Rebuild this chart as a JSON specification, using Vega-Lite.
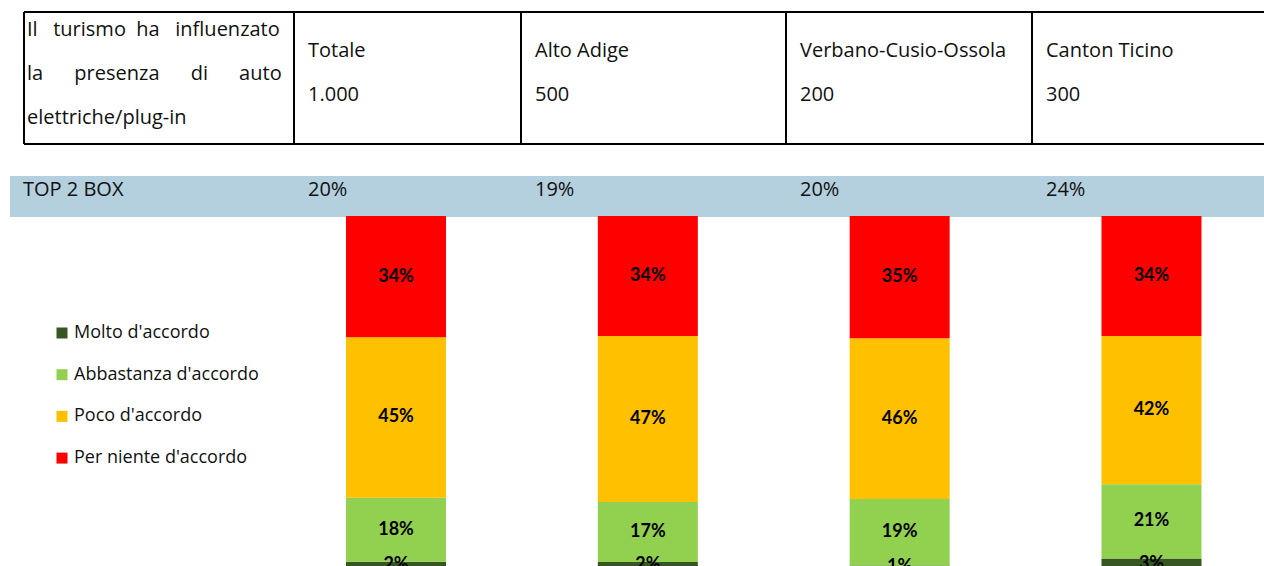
{
  "$schema": "https://vega.github.io/schema/vega-lite/v6.json",
  "width": 1264,
  "height": 566,
  "autosize": {"type": "fit", "contains": "padding"},
  "padding": 0,
  "background": "white",
  "config": {"view": {"stroke": null}, "font": "Open Sans"},
  "datasets": {
    "cols": [
      {"col": 0, "label": "", "base": "", "top2": "TOP 2 BOX"},
      {"col": 1, "label": "Totale", "base": "1.000", "top2": "20%"},
      {"col": 2, "label": "Alto Adige", "base": "500", "top2": "19%"},
      {"col": 3, "label": "Verbano-Cusio-Ossola", "base": "200", "top2": "20%"},
      {"col": 4, "label": "Canton Ticino", "base": "300", "top2": "24%"}
    ],
    "question": [
      {"col": 0, "text": ["Il\u00a0\u00a0\u00a0turismo\u00a0\u00a0ha\u00a0\u00a0\u00a0influenzato", "la\u00a0\u00a0\u00a0\u00a0\u00a0\u00a0presenza\u00a0\u00a0\u00a0\u00a0\u00a0\u00a0di\u00a0\u00a0\u00a0\u00a0\u00a0\u00a0auto", "elettriche/plug-in"]}
    ],
    "bars": [
      {"region": "Totale", "answer": "Molto d'accordo", "value": 2},
      {"region": "Totale", "answer": "Abbastanza d'accordo", "value": 18},
      {"region": "Totale", "answer": "Poco d'accordo", "value": 45},
      {"region": "Totale", "answer": "Per niente d'accordo", "value": 34},
      {"region": "Alto Adige", "answer": "Molto d'accordo", "value": 2},
      {"region": "Alto Adige", "answer": "Abbastanza d'accordo", "value": 17},
      {"region": "Alto Adige", "answer": "Poco d'accordo", "value": 47},
      {"region": "Alto Adige", "answer": "Per niente d'accordo", "value": 34},
      {"region": "Verbano-Cusio-Ossola", "answer": "Molto d'accordo", "value": 1},
      {"region": "Verbano-Cusio-Ossola", "answer": "Abbastanza d'accordo", "value": 19},
      {"region": "Verbano-Cusio-Ossola", "answer": "Poco d'accordo", "value": 46},
      {"region": "Verbano-Cusio-Ossola", "answer": "Per niente d'accordo", "value": 35},
      {"region": "Canton Ticino", "answer": "Molto d'accordo", "value": 3},
      {"region": "Canton Ticino", "answer": "Abbastanza d'accordo", "value": 21},
      {"region": "Canton Ticino", "answer": "Poco d'accordo", "value": 42},
      {"region": "Canton Ticino", "answer": "Per niente d'accordo", "value": 34}
    ]
  },
  "layer": [
    {
      "data": {"name": "cols"},
      "layer": [
        {
          "mark": {"type": "rect", "color": "#B4CFDD", "xOffset": -14},
          "transform": [{"filter": "datum.col == 0"}],
          "encoding": {
            "x": {"datum": 0, "type": "quantitative", "scale": {"domain": [0, 1, 2, 3, 4, 5], "range": [24, 294, 521, 786, 1032, 1264], "nice": false, "zero": false}, "axis": null},
            "x2": {"datum": 5},
            "y": {"datum": 7, "type": "quantitative", "scale": {"domain": [0, 1, 2, 3, 4, 5, 6, 7, 8, 9], "range": [12, 30, 50.5, 74, 95, 118, 144, 176, 190, 217], "nice": false, "zero": false}, "axis": null},
            "y2": {"datum": 9}
          }
        },
        {
          "mark": {"type": "rule", "color": "#000", "strokeWidth": 2},
          "encoding": {
            "x": {"field": "col", "type": "quantitative", "scale": {"domain": [0, 1, 2, 3, 4, 5], "range": [24, 294, 521, 786, 1032, 1264], "nice": false, "zero": false}, "axis": null},
            "y": {"datum": 0, "type": "quantitative", "scale": {"domain": [0, 1, 2, 3, 4, 5, 6, 7, 8, 9], "range": [12, 30, 50.5, 74, 95, 118, 144, 176, 190, 217], "nice": false, "zero": false}, "axis": null},
            "y2": {"datum": 6}
          }
        },
        {
          "mark": {"type": "rule", "color": "#000", "strokeWidth": 2},
          "transform": [{"filter": "datum.col == 0"}],
          "encoding": {
            "x": {"datum": 0, "type": "quantitative", "scale": {"domain": [0, 1, 2, 3, 4, 5], "range": [24, 294, 521, 786, 1032, 1264], "nice": false, "zero": false}, "axis": null},
            "x2": {"datum": 5},
            "y": {"datum": 0, "type": "quantitative", "scale": {"domain": [0, 1, 2, 3, 4, 5, 6, 7, 8, 9], "range": [12, 30, 50.5, 74, 95, 118, 144, 176, 190, 217], "nice": false, "zero": false}, "axis": null}
          }
        },
        {
          "mark": {"type": "rule", "color": "#000", "strokeWidth": 2},
          "transform": [{"filter": "datum.col == 0"}],
          "encoding": {
            "x": {"datum": 0, "type": "quantitative", "scale": {"domain": [0, 1, 2, 3, 4, 5], "range": [24, 294, 521, 786, 1032, 1264], "nice": false, "zero": false}, "axis": null},
            "x2": {"datum": 5},
            "y": {"datum": 6, "type": "quantitative", "scale": {"domain": [0, 1, 2, 3, 4, 5, 6, 7, 8, 9], "range": [12, 30, 50.5, 74, 95, 118, 144, 176, 190, 217], "nice": false, "zero": false}, "axis": null}
          }
        },
        {
          "mark": {"type": "text", "align": "left", "baseline": "middle", "dx": 14, "fontSize": 20, "color": "#111"},
          "encoding": {
            "x": {"field": "col", "type": "quantitative", "scale": {"domain": [0, 1, 2, 3, 4, 5], "range": [24, 294, 521, 786, 1032, 1264], "nice": false, "zero": false}, "axis": null},
            "y": {"datum": 2, "type": "quantitative", "scale": {"domain": [0, 1, 2, 3, 4, 5, 6, 7, 8, 9], "range": [12, 30, 50.5, 74, 95, 118, 144, 176, 190, 217], "nice": false, "zero": false}, "axis": null},
            "text": {"field": "label"}
          }
        },
        {
          "mark": {"type": "text", "align": "left", "baseline": "middle", "dx": 14, "fontSize": 20, "color": "#111"},
          "encoding": {
            "x": {"field": "col", "type": "quantitative", "scale": {"domain": [0, 1, 2, 3, 4, 5], "range": [24, 294, 521, 786, 1032, 1264], "nice": false, "zero": false}, "axis": null},
            "y": {"datum": 4, "type": "quantitative", "scale": {"domain": [0, 1, 2, 3, 4, 5, 6, 7, 8, 9], "range": [12, 30, 50.5, 74, 95, 118, 144, 176, 190, 217], "nice": false, "zero": false}, "axis": null},
            "text": {"field": "base"}
          }
        },
        {
          "mark": {"type": "text", "align": "left", "baseline": "middle", "dx": 14, "fontSize": 20, "color": "#111"},
          "transform": [{"filter": "datum.col > 0"}],
          "encoding": {
            "x": {"field": "col", "type": "quantitative", "scale": {"domain": [0, 1, 2, 3, 4, 5], "range": [24, 294, 521, 786, 1032, 1264], "nice": false, "zero": false}, "axis": null},
            "y": {"datum": 8, "type": "quantitative", "scale": {"domain": [0, 1, 2, 3, 4, 5, 6, 7, 8, 9], "range": [12, 30, 50.5, 74, 95, 118, 144, 176, 190, 217], "nice": false, "zero": false}, "axis": null},
            "text": {"field": "top2"}
          }
        },
        {
          "mark": {"type": "text", "align": "left", "baseline": "middle", "dx": -1, "fontSize": 20, "color": "#111"},
          "transform": [{"filter": "datum.col == 0"}],
          "encoding": {
            "x": {"field": "col", "type": "quantitative", "scale": {"domain": [0, 1, 2, 3, 4, 5], "range": [24, 294, 521, 786, 1032, 1264], "nice": false, "zero": false}, "axis": null},
            "y": {"datum": 8, "type": "quantitative", "scale": {"domain": [0, 1, 2, 3, 4, 5, 6, 7, 8, 9], "range": [12, 30, 50.5, 74, 95, 118, 144, 176, 190, 217], "nice": false, "zero": false}, "axis": null},
            "text": {"field": "top2"}
          }
        },
        {
          "data": {"name": "question"},
          "mark": {"type": "text", "align": "left", "baseline": "middle", "dx": 3, "fontSize": 20, "lineHeight": 44, "color": "#111"},
          "encoding": {
            "x": {"field": "col", "type": "quantitative", "scale": {"domain": [0, 1, 2, 3, 4, 5], "range": [24, 294, 521, 786, 1032, 1264], "nice": false, "zero": false}, "axis": null},
            "y": {"datum": 1, "type": "quantitative", "scale": {"domain": [0, 1, 2, 3, 4, 5, 6, 7, 8, 9], "range": [12, 30, 50.5, 74, 95, 118, 144, 176, 190, 217], "nice": false, "zero": false}, "axis": null},
            "text": {"field": "text"}
          }
        }
      ]
    },
    {
      "data": {"name": "bars"},
      "transform": [
        {"calculate": "indexof([\"Molto d'accordo\", \"Abbastanza d'accordo\", \"Poco d'accordo\", \"Per niente d'accordo\"], datum.answer)", "as": "ord"},
        {"stack": "value", "groupby": ["region"], "sort": [{"field": "ord", "order": "ascending"}], "offset": "normalize", "as": ["y0", "y1"]},
        {"calculate": "(datum.y0 + datum.y1) / 2", "as": "mid"},
        {"calculate": "datum.value + '%'", "as": "pct"}
      ],
      "layer": [
        {
          "mark": {"type": "bar", "width": 100},
          "encoding": {
            "x": {"field": "region", "type": "nominal", "sort": null, "scale": {"type": "band", "domain": ["Totale", "Alto Adige", "Verbano-Cusio-Ossola", "Canton Ticino"], "range": [270.1, 1277.4], "paddingInner": 0, "paddingOuter": 0}, "axis": null},
            "y": {"field": "y0", "type": "quantitative", "scale": {"domain": [0, 1], "range": [569, 216], "nice": false, "zero": false}, "axis": null},
            "y2": {"field": "y1"},
            "color": {
              "field": "answer",
              "type": "nominal",
              "scale": {"domain": ["Molto d'accordo", "Abbastanza d'accordo", "Poco d'accordo", "Per niente d'accordo"], "range": ["#375623", "#92D050", "#FFC000", "#FF0000"]},
              "legend": {
                "title": null,
                "orient": "none",
                "legendX": 53,
                "legendY": 324,
                "direction": "vertical",
                "symbolType": "square",
                "symbolSize": 121,
                "symbolStrokeWidth": 0,
                "symbolOpacity": 1,
                "labelFont": "Open Sans",
                "labelFontSize": 18,
                "labelColor": "#111",
                "labelOffset": 3,
                "labelLimit": 400,
                "rowPadding": 23.7
              }
            }
          }
        },
        {
          "mark": {"type": "text", "font": "Lato", "fontSize": 18, "fontWeight": "bold", "color": "#000", "baseline": "middle", "align": "center"},
          "encoding": {
            "x": {"field": "region", "type": "nominal", "sort": null, "scale": {"type": "band", "domain": ["Totale", "Alto Adige", "Verbano-Cusio-Ossola", "Canton Ticino"], "range": [270.1, 1277.4], "paddingInner": 0, "paddingOuter": 0}, "axis": null},
            "y": {"field": "mid", "type": "quantitative", "scale": {"domain": [0, 1], "range": [569, 216], "nice": false, "zero": false}, "axis": null},
            "text": {"field": "pct"}
          }
        }
      ]
    }
  ],
  "resolve": {"scale": {"x": "independent", "y": "independent"}}
}
